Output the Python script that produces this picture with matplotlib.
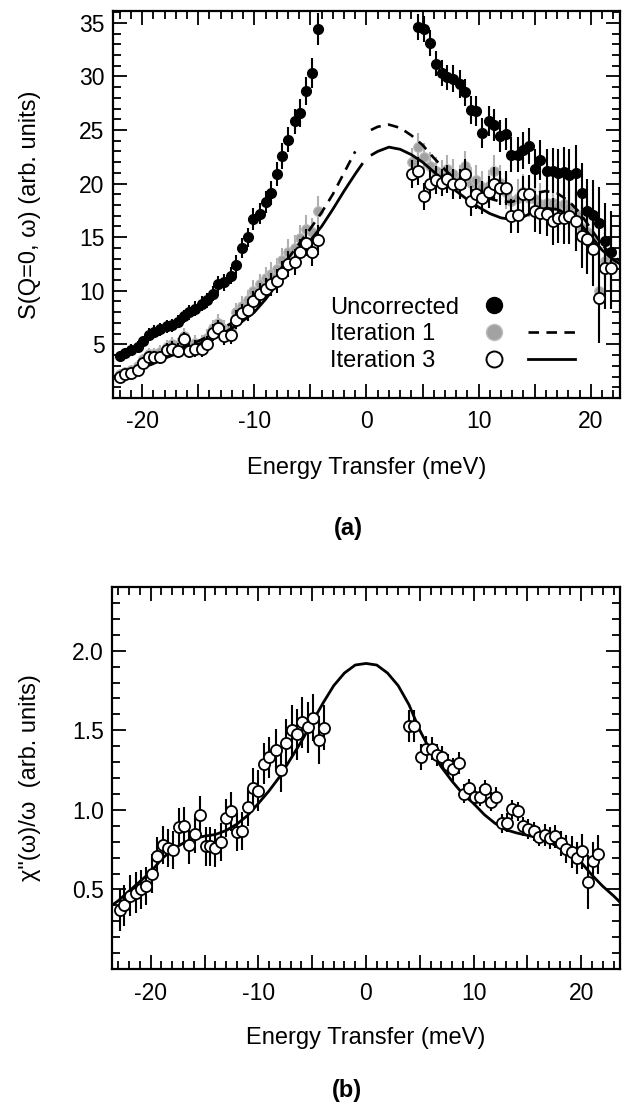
import numpy as np
import matplotlib
matplotlib.use("Agg")
import matplotlib.pyplot as plt
from matplotlib.lines import Line2D
from matplotlib.legend_handler import HandlerTuple
from matplotlib.ticker import MultipleLocator, FixedLocator, FuncFormatter

plt.rcParams["font.family"] = ["Liberation Sans", "DejaVu Sans"]
plt.rcParams["axes.unicode_minus"] = False

nan = np.nan

# ---------------- panel (a): S(Q=0, w) ----------------
e_neg = [-22.0, -21.5, -21.0, -20.4, -19.9, -19.4, -18.9, -18.4, -17.8, -17.3,
         -16.8, -16.3, -15.8, -15.3, -14.7, -14.2, -13.7, -13.2, -12.7, -12.1,
         -11.6, -11.1, -10.6, -10.1, -9.5, -9.0, -8.5, -8.0, -7.5, -7.0,
         -6.4, -5.9, -5.4, -4.9, -4.3]
e_pos = [4.1, 4.6, 5.1, 5.7, 6.2, 6.7, 7.2, 7.7, 8.3, 8.8,
         9.3, 9.8, 10.3, 10.9, 11.4, 11.9, 12.4, 12.9, 13.5, 14.0,
         14.5, 15.0, 15.5, 16.1, 16.6, 17.1, 17.6, 18.1, 18.7, 19.2,
         19.7, 20.2, 20.7, 21.3, 21.8]

uncorr_neg = [3.9, 4.2, 4.5, 4.8, 5.3, 5.9, 6.2, 6.4, 6.7, 6.8,
              7.1, 7.6, 8.0, 8.3, 8.8, 9.1, 9.7, 10.6, 10.8, 11.4,
              12.4, 14.0, 15.0, 16.7, 17.2, 18.3, 19.1, 20.9, 22.6, 24.1,
              25.8, 26.6, 28.6, 30.3, 34.4]
uncorr_neg_err = [0.5, 0.5, 0.5, 0.5, 0.5, 0.6, 0.6, 0.6, 0.6, 0.6,
                  0.6, 0.6, 0.7, 0.7, 0.7, 0.7, 0.7, 0.8, 0.8, 0.8,
                  0.9, 0.9, 0.9, 1.0, 1.0, 1.0, 1.1, 1.1, 1.2, 1.2,
                  1.2, 1.3, 1.3, 1.4, 1.5]
uncorr_pos = [nan, 34.6, 34.4, 33.1, 31.2, 30.3, 29.9, 29.8, 29.3, 28.5,
              26.9, 26.8, 24.7, 25.8, 25.5, 24.4, 24.6, 22.7, 22.7, 23.1,
              23.5, 21.4, 22.2, 21.2, 21.2, 21.0, 21.1, 20.8, 21.0, 19.1,
              17.4, 17.1, 16.3, 14.6, 13.6]
uncorr_pos_err = [nan, 1.2, 1.2, 1.2, 1.2, 1.2, 1.2, 1.3, 1.3, 1.3,
                  1.3, 1.4, 1.4, 1.4, 1.5, 1.5, 1.5, 1.6, 1.6, 1.7,
                  1.7, 1.8, 1.9, 2.0, 2.1, 2.2, 2.3, 2.4, 2.6, 2.8,
                  3.0, 3.2, 3.4, 3.6, 3.8]

iter1_neg = [2.2, 2.4, 2.6, 3.0, 3.6, 4.1, 4.1, 4.3, 4.8, 5.0,
             4.9, 5.8, 4.9, 5.1, 5.1, 5.6, 6.5, 7.0, 6.4, 6.5,
             8.0, 8.6, 9.1, 10.0, 10.6, 11.2, 11.6, 12.0, 12.9, 13.6,
             14.0, 14.9, 15.8, 15.5, 17.4]
iter1_pos = [22.0, 23.4, 22.5, 21.6, 21.2, 20.9, 21.4, 20.9, 20.3, 21.6,
             20.1, 20.3, 19.7, 19.8, 21.2, 20.1, 19.2, 18.4, 18.7, 19.2,
             18.7, 18.6, 18.1, 18.2, 18.2, 17.9, 18.1, 17.8, 17.2, 15.9,
             15.5, 14.6, 10.0, 12.8, 12.5]

iter3_neg = [2.0, 2.2, 2.3, 2.6, 3.3, 3.8, 3.8, 3.8, 4.5, 4.6,
             4.4, 5.5, 4.4, 4.6, 4.6, 5.0, 6.1, 6.5, 5.8, 5.9,
             7.3, 7.9, 8.2, 9.0, 9.7, 10.2, 10.6, 10.9, 11.7, 12.5,
             12.7, 13.6, 14.5, 13.6, 14.7]
iter3_pos = [20.9, 21.2, 18.8, 20.0, 20.3, 20.1, 20.4, 20.0, 20.0, 20.9,
             18.4, 19.0, 18.7, 19.2, 20.0, 19.6, 19.6, 17.0, 17.1, 19.0,
             19.0, 17.4, 17.3, 17.2, 16.5, 16.8, 16.8, 17.0, 16.5, 15.1,
             14.8, 13.9, 9.3, 12.1, 12.1]
iter_neg_err = [0.5, 0.5, 0.5, 0.5, 0.5, 0.6, 0.6, 0.6, 0.6, 0.7,
                0.7, 0.7, 0.7, 0.8, 0.8, 0.8, 0.8, 0.8, 0.9, 0.9,
                0.9, 0.9, 1.0, 1.0, 1.0, 1.0, 1.1, 1.1, 1.1, 1.2,
                1.2, 1.2, 1.3, 1.3, 1.4]
iter_pos_err = [1.3, 1.3, 1.3, 1.3, 1.3, 1.3, 1.3, 1.4, 1.4, 1.4,
                1.4, 1.4, 1.5, 1.5, 1.5, 1.6, 1.6, 1.6, 1.7, 1.7,
                1.8, 1.9, 2.0, 2.1, 2.2, 2.3, 2.4, 2.6, 2.8, 3.0,
                3.2, 3.5, 4.2, 3.8, 3.8]

fit1_e = [-22.6, -22, -21, -20, -19, -18, -17, -16, -15, -14, -13, -12, -11, -10,
          -9, -8, -7, -6, -5, -4, -3, -2, -1, nan, 0.4, 1, 2, 3, 4, 5, 6, 7, 8,
          9, 10, 11, 12, 13, 14, 15, 16, 17, 18, 19, 20, 21, 22, 22.6]
fit1_s = [2.0, 2.2, 2.6, 3.0, 3.5, 3.9, 4.4, 4.9, 5.3, 5.8, 6.4, 7.0, 7.8, 8.7,
          10.0, 11.5, 13.0, 14.4, 15.8, 17.3, 19.0, 21.0, 23.0, nan, 25.0, 25.3, 25.5, 25.2, 24.5, 23.6, 22.4, 21.3, 20.3,
          19.6, 19.0, 18.6, 18.3, 18.3, 18.7, 19.1, 19.3, 19.1, 18.4, 17.3, 15.8, 14.3, 13.2, 12.8]
fit3_e = [-22.6, -22, -21, -20, -19, -18, -17, -16, -15, -14, -13, -12, -11, -10,
          -9, -8, -7, -6, -5, -4, -3, -2, -1, -0.4, nan, 0.5, 1, 2, 3, 4, 5, 6, 7, 8,
          9, 10, 11, 12, 13, 14, 15, 16, 17, 18, 19, 20, 21, 22, 22.6]
fit3_s = [1.8, 2.0, 2.4, 2.8, 3.2, 3.7, 4.1, 4.6, 5.0, 5.4, 5.9, 6.5, 7.2, 8.0,
          9.2, 10.6, 12.1, 13.4, 14.7, 16.0, 17.6, 19.3, 20.9, 21.8, nan, 22.7, 23.0, 23.4, 23.2, 22.7, 22.0, 21.1, 20.2, 19.3,
          18.5, 17.8, 17.2, 16.8, 16.65, 16.9, 17.4, 17.7, 17.6, 17.1, 16.3, 15.1, 13.8, 12.9, 12.5]

s_yticks = [5, 10, 15, 20, 25, 30, 35]

# ---------------- panel (b): chi''(w)/w ----------------
chi_e_neg = [-22.9, -22.5, -21.9, -21.4, -20.9, -20.4, -19.9, -19.4, -18.9, -18.4,
             -17.9, -17.4, -16.9, -16.4, -15.9, -15.4, -14.9, -14.5, -14.0, -13.5,
             -13.0, -12.5, -12.0, -11.5, -11.0, -10.5, -10.0, -9.5, -9.0, -8.4,
             -7.9, -7.4, -6.9, -6.4, -5.9, -5.4, -4.9, -4.4, -3.9]
chi_neg = [0.37, 0.40, 0.46, 0.48, 0.50, 0.52, 0.60, 0.71, 0.78, 0.76,
           0.75, 0.89, 0.90, 0.78, 0.85, 0.97, 0.77, 0.77, 0.76, 0.80,
           0.95, 0.99, 0.86, 0.865, 1.02, 1.135, 1.12, 1.29, 1.33, 1.375,
           1.25, 1.42, 1.50, 1.475, 1.55, 1.52, 1.58, 1.44, 1.517]
chi_neg_err = [0.13, 0.13, 0.13, 0.13, 0.12, 0.12, 0.12, 0.12, 0.12, 0.12,
               0.12, 0.12, 0.12, 0.12, 0.12, 0.12, 0.12, 0.12, 0.12, 0.12,
               0.12, 0.12, 0.12, 0.12, 0.12, 0.13, 0.13, 0.13, 0.13, 0.13,
               0.14, 0.15, 0.16, 0.16, 0.16, 0.16, 0.15, 0.15, 0.14]
chi_e_pos = [4.0, 4.5, 5.1, 5.6, 6.1, 6.6, 7.1, 7.6, 8.1, 8.6,
             9.1, 9.6, 10.1, 10.6, 11.1, 11.6, 12.1, 12.6, 13.1, 13.6,
             14.1, 14.6, 15.1, 15.6, 16.1, 16.6, 17.1, 17.6, 18.1, 18.6,
             19.1, 19.6, 20.1, 20.6, 21.1, 21.6]
chi_pos = [1.527, 1.527, 1.333, 1.385, 1.385, 1.344, 1.33, 1.28, 1.254, 1.296,
           1.10, 1.135, 1.083, 1.083, 1.13, 1.05, 1.083, 0.917, 0.92, 1.004,
           0.99, 0.896, 0.88, 0.865, 0.83, 0.84, 0.825, 0.833, 0.79, 0.754,
           0.734, 0.70, 0.74, 0.547, 0.68, 0.72]
chi_pos_err = [0.10, 0.10, 0.08, 0.08, 0.07, 0.07, 0.07, 0.07, 0.07, 0.07,
               0.06, 0.06, 0.06, 0.06, 0.06, 0.06, 0.06, 0.06, 0.06, 0.06,
               0.06, 0.06, 0.06, 0.06, 0.06, 0.07, 0.07, 0.07, 0.08, 0.09,
               0.10, 0.10, 0.11, 0.17, 0.12, 0.12]
chi_fit_e = [-23.6, -23, -22, -21, -20, -19, -18, -17, -16, -15, -14, -13, -12,
             -11, -10, -9, -8, -7, -6, -5, -4, -3, -2, -1, 0, 1, 2, 3, 4, 5, 6,
             7, 8, 9, 10, 11, 12, 13, 14, 15, 16, 17, 18, 19, 20, 21, 22, 23, 23.6]
chi_fit = [0.40, 0.43, 0.49, 0.55, 0.61, 0.69, 0.75, 0.79, 0.82, 0.835, 0.845, 0.87, 0.91,
           0.965, 1.04, 1.12, 1.21, 1.32, 1.43, 1.55, 1.67, 1.78, 1.86, 1.91, 1.92, 1.91, 1.86, 1.78,
           1.66, 1.50, 1.37, 1.27, 1.18, 1.10, 1.04, 0.97, 0.915, 0.875, 0.855, 0.84, 0.825, 0.80,
           0.76, 0.72, 0.67, 0.59, 0.52, 0.46, 0.42]
chi_yticks = [0.5, 1.0, 1.5, 2.0]

FS_TICK = 16.5
FS_LABEL = 17

fig = plt.figure(figsize=(6.28, 11.11), dpi=100)
ax1 = fig.add_axes([0.1799, 0.6418, 0.8073, 0.3483])
ax2 = fig.add_axes([0.1783, 0.1278, 0.8089, 0.3438])


def style_axes(ax, ymajor, yminor, yfmt):
    for sp in ax.spines.values():
        sp.set_linewidth(1.6)
    ax.xaxis.set_major_locator(MultipleLocator(5))
    ax.xaxis.set_minor_locator(MultipleLocator(1))
    ax.xaxis.set_major_formatter(FuncFormatter(
        lambda v, p: f"{int(round(v))}" if int(round(v)) % 10 == 0 else ""))
    ax.yaxis.set_major_locator(FixedLocator(ymajor))
    ax.yaxis.set_minor_locator(MultipleLocator(yminor))
    ax.yaxis.set_major_formatter(FuncFormatter(yfmt))
    ax.tick_params(which="both", direction="in", top=True, right=True,
                   width=1.3, labelsize=FS_TICK)
    ax.tick_params(which="major", length=10)
    ax.tick_params(which="minor", length=5.5)
    ax.tick_params(axis="x", which="both", pad=9)
    ax.tick_params(axis="y", which="both", pad=6)
    ax.set_xlabel("Energy Transfer (meV)", fontsize=FS_LABEL)
    ax.xaxis.label.set_verticalalignment("center")
    ax.xaxis.set_label_coords(0.5, -0.181)


err_kw = dict(linestyle="none", capsize=0, elinewidth=1.5)

# panel (a)
for xs, ys in ((e_neg, iter1_neg), (e_pos, iter1_pos)):
    errs = iter_neg_err if xs is e_neg else iter_pos_err
    ax1.errorbar(xs, ys, yerr=errs, marker="o", ms=7, mfc="#a2a2a2",
                 mec="#bdbdbd", mew=0.8, ecolor="#b0b0b0", zorder=2, **err_kw)
ax1.plot(fit1_e, fit1_s, color="black", lw=1.9, dashes=(4.0, 2.8), zorder=3)
ax1.plot(fit3_e, fit3_s, color="black", lw=2.0, zorder=3)
for xs, ys, errs in ((e_neg, uncorr_neg, uncorr_neg_err), (e_pos, uncorr_pos, uncorr_pos_err)):
    ax1.errorbar(xs, ys, yerr=errs, marker="o", ms=7, mfc="black",
                 mec="black", ecolor="black", zorder=4, **err_kw)
for xs, ys, errs in ((e_neg, iter3_neg, iter_neg_err), (e_pos, iter3_pos, iter_pos_err)):
    ax1.errorbar(xs, ys, yerr=errs, marker="o", ms=8, mfc="white",
                 mec="black", mew=1.3, ecolor="black", zorder=5, **err_kw)

ax1.set_xlim(-22.6, 22.6)
ax1.set_ylim(0, 36.1)
style_axes(ax1, s_yticks, 1, lambda v, p: f"{int(round(v))}")
ax1.set_ylabel("S(Q=0, ω) (arb. units)", fontsize=FS_LABEL)
ax1.yaxis.label.set_verticalalignment("center")
ax1.yaxis.set_label_coords(-0.164, 0.5)

# legend: text column and symbol column as two legends
labels = ["Uncorrected", "Iteration 1", "Iteration 3"]
blank = [Line2D([], [], linestyle="none") for _ in labels]
leg_kw = dict(frameon=False, borderpad=0, fontsize=FS_LABEL, labelspacing=0.2,
              loc="upper left", borderaxespad=0)
leg1 = ax1.legend(blank, labels, handlelength=0, handletextpad=0,
                  bbox_to_anchor=(0.428, 0.262), **leg_kw)
ax1.add_artist(leg1)
none_line = Line2D([], [], linestyle="none", marker="none")
h_unc = Line2D([], [], linestyle="none", marker="o", ms=11.5, mfc="black", mec="black")
h_it1 = Line2D([], [], linestyle="none", marker="o", ms=11.5, mfc="#a2a2a2", mec="#bdbdbd")
h_it3 = Line2D([], [], linestyle="none", marker="o", ms=11.5, mfc="white", mec="black", mew=1.4)
l_it1 = Line2D([], [], color="black", lw=1.9, dashes=(4.0, 2.8))
l_it3 = Line2D([], [], color="black", lw=2.0)
ax1.legend([(h_unc, none_line), (h_it1, l_it1), (h_it3, l_it3)], [" ", " ", " "],
           handler_map={tuple: HandlerTuple(ndivide=2, pad=0.45)},
           handlelength=4.45, handletextpad=0, bbox_to_anchor=(0.705, 0.262), **leg_kw)

# panel (b)
ax2.plot(chi_fit_e, chi_fit, color="black", lw=2.0, zorder=3)
for xs, ys, errs in ((chi_e_neg, chi_neg, chi_neg_err), (chi_e_pos, chi_pos, chi_pos_err)):
    ax2.errorbar(xs, ys, yerr=errs, marker="o", ms=8, mfc="white",
                 mec="black", mew=1.3, ecolor="black", zorder=5, **err_kw)
ax2.set_xlim(-23.6, 23.6)
ax2.set_ylim(0, 2.4)
style_axes(ax2, chi_yticks, 0.1, lambda v, p: f"{v:.1f}")
ax2.set_ylabel('χ"(ω)/ω  (arb. units)', fontsize=FS_LABEL)
ax2.yaxis.label.set_verticalalignment("center")
ax2.yaxis.set_label_coords(-0.161, 0.5)

fig.text(348 / 628, 1 - 528 / 1111, "(a)", fontsize=FS_LABEL, fontweight="bold",
         ha="center", va="center")
fig.text(347 / 628, 1 - 1091 / 1111, "(b)", fontsize=FS_LABEL, fontweight="bold",
         ha="center", va="center")

fig.savefig("out.png", dpi=100)
